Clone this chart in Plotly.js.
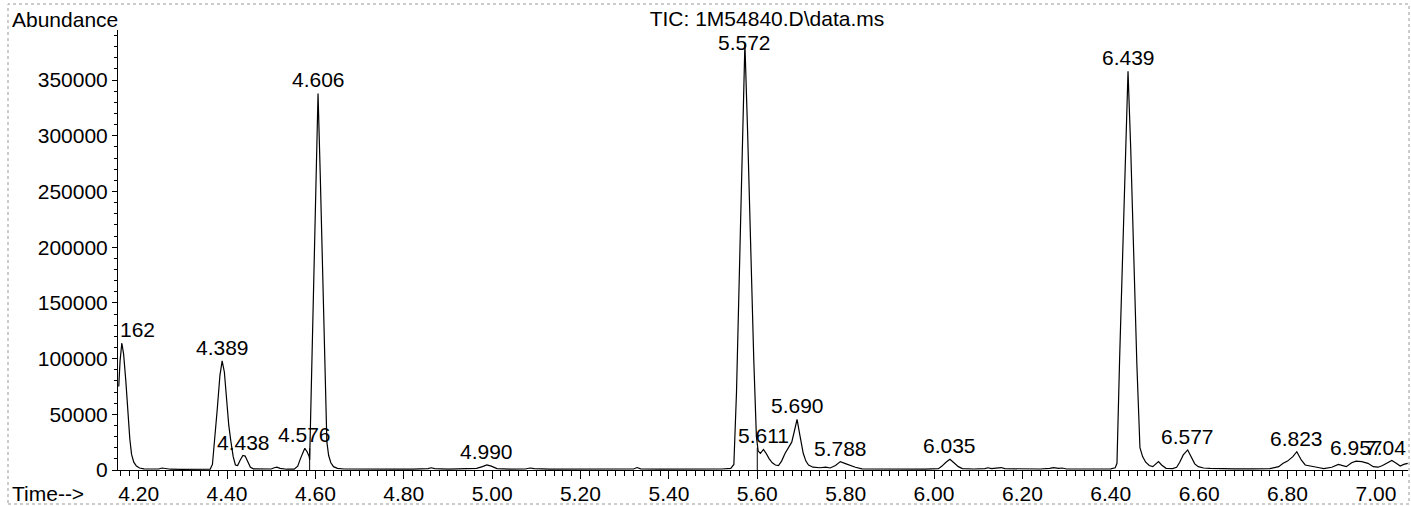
<!DOCTYPE html>
<html>
<head>
<meta charset="utf-8">
<script src="https://cdn.plot.ly/plotly-3.0.1.min.js"></script>
<style>
  html, body { margin: 0; padding: 0; background: #ffffff; }
  #chart { width: 1411px; height: 506px; }
</style>
</head>
<body>
<div id="chart"></div>
<script>
// ---- Data (TIC) ----
const retentionTime = [
  4.155, 4.158, 4.162, 4.166, 4.171, 4.176, 4.180, 4.184, 4.189, 4.195,
  4.202, 4.212, 4.230, 4.245, 4.253, 4.262, 4.272, 4.295, 4.320, 4.345,
  4.362, 4.367, 4.372, 4.378, 4.384, 4.389, 4.394, 4.399, 4.404, 4.409,
  4.414, 4.419, 4.424, 4.430, 4.436, 4.441, 4.447, 4.453, 4.460, 4.480,
  4.500, 4.507, 4.513, 4.520, 4.535, 4.552, 4.560, 4.566, 4.571, 4.576,
  4.581, 4.586, 4.587, 4.591, 4.596, 4.601, 4.606, 4.611, 4.616, 4.621,
  4.626, 4.630, 4.635, 4.641, 4.650, 4.665, 4.700, 4.740, 4.780, 4.820,
  4.855, 4.862, 4.870, 4.900, 4.940, 4.965, 4.978, 4.988, 4.998, 5.011,
  5.040, 5.075, 5.086, 5.095, 5.130, 5.180, 5.230, 5.280, 5.320, 5.328,
  5.336, 5.380, 5.430, 5.480, 5.520, 5.540, 5.547, 5.553, 5.559, 5.565,
  5.572, 5.578, 5.585, 5.592, 5.598, 5.602, 5.607, 5.614, 5.620, 5.627,
  5.634, 5.641, 5.648, 5.655, 5.663, 5.670, 5.678, 5.684, 5.690, 5.697,
  5.704, 5.710, 5.716, 5.726, 5.742, 5.755, 5.765, 5.777, 5.788, 5.798,
  5.810, 5.822, 5.837, 5.870, 5.910, 5.950, 5.980, 6.010, 6.018, 6.027,
  6.036, 6.045, 6.055, 6.064, 6.090, 6.115, 6.122, 6.130, 6.145, 6.152,
  6.160, 6.200, 6.240, 6.262, 6.270, 6.282, 6.290, 6.300, 6.340, 6.380,
  6.400, 6.410, 6.414, 6.420, 6.427, 6.433, 6.439, 6.445, 6.452, 6.459,
  6.466, 6.472, 6.479, 6.487, 6.495, 6.502, 6.508, 6.515, 6.525, 6.540,
  6.549, 6.556, 6.564, 6.574, 6.582, 6.590, 6.598, 6.610, 6.625, 6.640,
  6.680, 6.720, 6.760, 6.780, 6.790, 6.800, 6.812, 6.821, 6.831, 6.840,
  6.850, 6.862, 6.872, 6.882, 6.900, 6.915, 6.925, 6.933, 6.945, 6.955,
  6.968, 6.982, 6.994, 7.005, 7.015, 7.025, 7.036, 7.046, 7.055, 7.063,
  7.072
];
const abundance = [
  75000, 98000, 114000, 104000, 80000, 50000, 28000, 14000, 7000, 3500,
  1800, 1000, 700, 900, 1800, 1500, 700, 600, 700, 600,
  800, 5000, 25000, 55000, 85000, 98000, 88000, 62000, 40000, 25000,
  12000, 4500, 4000, 9000, 13000, 12500, 7000, 2500, 1000, 800,
  900, 2000, 2600, 1500, 700, 800, 3500, 10000, 15500, 19500,
  16500, 12000, 9000, 80000, 170000, 260000, 338000, 265000, 175000, 90000,
  25000, 13000, 6500, 3000, 1500, 900, 700, 800, 700, 800,
  1200, 2000, 1200, 700, 800, 1500, 3000, 4500, 3500, 1200,
  800, 900, 1800, 1200, 700, 800, 700, 800, 900, 2200,
  1000, 700, 800, 700, 900, 1500, 5000, 70000, 170000, 280000,
  383000, 305000, 195000, 100000, 30000, 17000, 15000, 18500, 15000, 10000,
  6500, 4500, 4000, 8000, 15000, 20000, 25000, 35000, 45500, 30000,
  15000, 8000, 4500, 2500, 2000, 2500, 1800, 4000, 7500, 6000,
  4000, 2500, 1000, 800, 700, 900, 800, 1200, 3500, 7000,
  9600, 6500, 3000, 1200, 900, 1300, 2000, 1200, 1800, 2200,
  1200, 800, 900, 1500, 2200, 1500, 1800, 900, 800, 900,
  1000, 2000, 6000, 100000, 200000, 290000, 358000, 290000, 190000, 95000,
  20000, 12000, 7000, 4000, 3000, 5500, 7500, 4500, 1500, 1200,
  2500, 7000, 13500, 18000, 12000, 5500, 3000, 1800, 1500, 1200,
  1000, 1000, 1200, 3000, 6000, 8000, 12000, 16400, 9000, 4500,
  3500, 3000, 2000, 1200, 2500, 5000, 3500, 3000, 6500, 8000,
  7500, 6000, 3000, 2500, 4000, 6500, 8500, 6000, 3500, 5000,
  6000
];

// Integration split markers (vertical drop lines)
const splitTimes = [4.587, 5.600];
const splitHeights = [19500, 20000];

// Peak labels
const peakTimes  = [4.162, 4.389, 4.438, 4.576, 4.606, 4.988, 5.572, 5.614, 5.690, 5.788, 6.036, 6.439, 6.574, 6.821, 6.955, 7.036];
const peakLabels = ["162", "4.389", "4.438", "4.576", "4.606", "4.990", "5.572", "5.611", "5.690", "5.788", "6.035", "6.439", "6.577", "6.823", "6.957", "7.04"];

// Axis tick values
const yTickValues = [0, 50000, 100000, 150000, 200000, 250000, 300000, 350000];
const xTickValues = [4.20, 4.40, 4.60, 4.80, 5.00, 5.20, 5.40, 5.60, 5.80, 6.00, 6.20, 6.40, 6.60, 6.80, 7.00];

const titleText = "TIC: 1M54840.D\\data.ms";

// ---- Build ----
const FONT = "Liberation Sans, Arial, Helvetica, sans-serif";
const FS = 21;
const xRange = [4.1533, 7.0726];
const yRange = [0, 395000];

function peakHeightAt(t) {
  let best = 0;
  for (let i = 0; i < retentionTime.length; i++) {
    if (Math.abs(retentionTime[i] - t) <= 0.004 && abundance[i] > best) best = abundance[i];
  }
  return best;
}

const splitX = [], splitY = [];
splitTimes.forEach((t, i) => { splitX.push(t, t, null); splitY.push(0, splitHeights[i], null); });

const traces = [
  { x: retentionTime, y: abundance, type: 'scatter', mode: 'lines',
    line: { color: '#000', width: 1.2 }, hoverinfo: 'skip', showlegend: false },
  { x: splitX, y: splitY, type: 'scatter', mode: 'lines',
    line: { color: '#000', width: 1 }, hoverinfo: 'skip', showlegend: false }
];

const annotations = peakTimes.map((t, i) => {
  const h = Math.min(peakHeightAt(t), 372000);
  const a = { x: t, y: h, xref: 'x', yref: 'y', text: peakLabels[i], showarrow: false,
    yanchor: 'bottom', xanchor: 'center', font: { family: FONT, size: FS, color: '#000' } };
  if (i === 0) { a.xanchor = 'left'; a.xshift = -4; }
  if (i === peakTimes.length - 1) { a.x = xRange[1]; a.xanchor = 'right'; }
  return a;
});

annotations.push({ xref: 'paper', yref: 'paper', x: (10 - 118) / 1290, y: (470 - 19) / 440,
  xanchor: 'left', yanchor: 'middle', text: 'Abundance', showarrow: false,
  font: { family: FONT, size: FS, color: '#000' } });
annotations.push({ xref: 'paper', yref: 'paper', x: (10 - 118) / 1290, y: (470 - 493) / 440,
  xanchor: 'left', yanchor: 'middle', text: 'Time-->', showarrow: false,
  font: { family: FONT, size: FS, color: '#000' } });

const layout = {
  width: 1411, height: 506,
  margin: { l: 118, r: 3, t: 30, b: 36 },
  paper_bgcolor: '#fff', plot_bgcolor: '#fff',
  showlegend: false,
  title: { text: titleText, x: 767 / 1411, xref: 'container', xanchor: 'center',
           y: 1 - 19 / 506, yref: 'container', yanchor: 'middle',
           font: { family: FONT, size: FS, color: '#000' } },
  font: { family: FONT, size: FS, color: '#000' },
  xaxis: {
    range: xRange, tickvals: xTickValues, tickformat: '.2f',
    showline: true, linecolor: '#000', linewidth: 1, mirror: false,
    ticks: 'outside', ticklen: 8, tickcolor: '#000', tickwidth: 1,
    ticklabelstandoff: -3,
    showgrid: false, zeroline: false,
    tickfont: { family: FONT, size: FS, color: '#000' },
    minor: { dtick: 0.02, tick0: 4.2, ticks: 'outside', ticklen: 5, tickcolor: '#000', showgrid: false }
  },
  yaxis: {
    range: yRange, tickvals: yTickValues, tickformat: 'd',
    showline: true, linecolor: '#000', linewidth: 1, mirror: false,
    ticks: 'outside', ticklen: 5, tickcolor: '#000', tickwidth: 1,
    showgrid: false, zeroline: false,
    tickfont: { family: FONT, size: FS, color: '#000' },
    minor: { dtick: 10000, tick0: 0, ticks: 'outside', ticklen: 3, tickcolor: '#000', showgrid: false }
  },
  annotations: annotations,
  shapes: [
    { type: 'rect', xref: 'paper', yref: 'paper',
      x0: (8 - 118) / 1290, x1: (1409 - 118) / 1290,
      y0: (470 - 504) / 440, y1: (470 - 4) / 440,
      line: { color: '#999', width: 1, dash: 'dot' }, fillcolor: 'rgba(0,0,0,0)' }
  ]
};

Plotly.newPlot('chart', traces, layout, { displayModeBar: false, staticPlot: true });
</script>
</body>
</html>
